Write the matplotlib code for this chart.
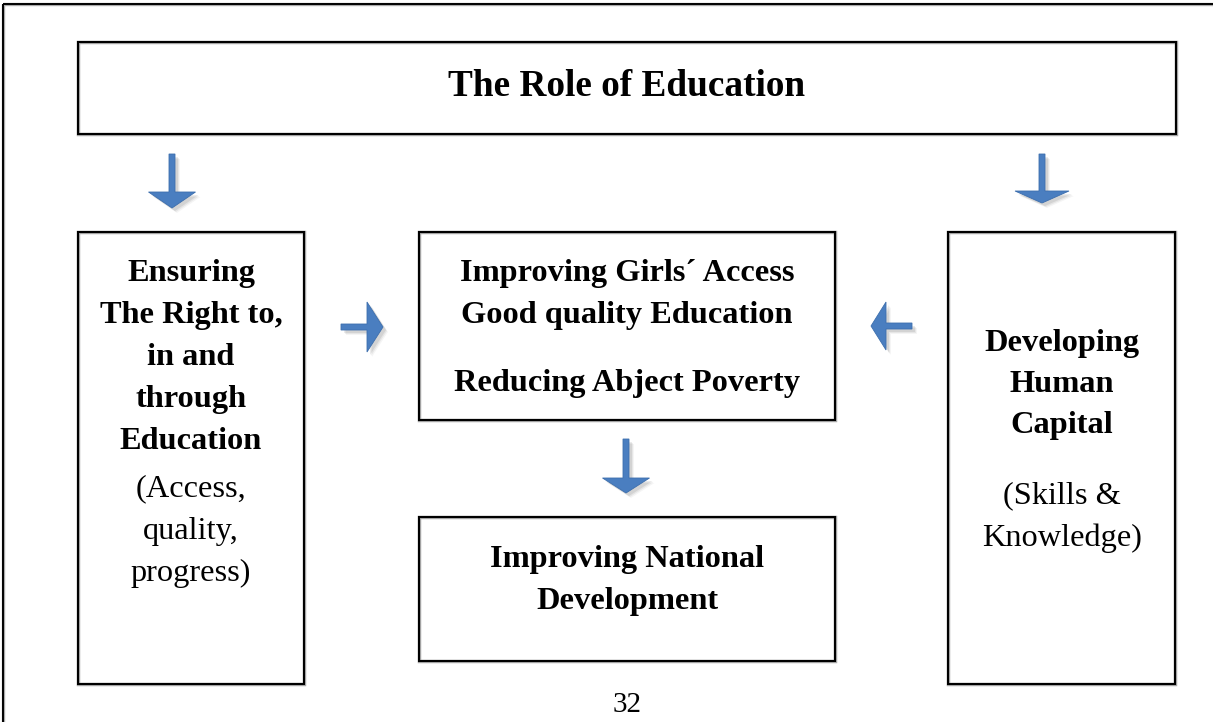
import numpy as np
import matplotlib
matplotlib.use("Agg")
import matplotlib.pyplot as plt
from matplotlib.patches import Rectangle, Polygon

# diagram content
title_text = "The Role of Education"
left_bold = ["Ensuring", "The Right to,", "in and", "through", "Education"]
left_normal = ["(Access,", "quality,", "progress)"]
center_top_bold = ["Improving Girls\u00b4 Access", "Good quality Education"]
center_top_last = "Reducing Abject Poverty"
center_bottom_bold = ["Improving National", "Development"]
right_bold = ["Developing", "Human", "Capital"]
right_normal = ["(Skills &", "Knowledge)"]
page_number = "32"

W, H = 1213, 722
ARROW = "#4A7EC0"

fig = plt.figure(figsize=(W / 100, H / 100), dpi=100)
ax = fig.add_axes([0, 0, 1, 1])
ax.set_xlim(0, W)
ax.set_ylim(H, 0)
ax.axis("off")

serif = "Liberation Serif"


def box(x0, y0, x1, y1, lw=1.5):
    # light grey halo + black edge, like the scanned page
    ax.add_patch(Rectangle((x0, y0), x1 - x0, y1 - y0, fill=False,
                           edgecolor="#aaaaaa", lw=lw + 1.0, zorder=1))
    ax.add_patch(Rectangle((x0, y0), x1 - x0, y1 - y0, fill=False,
                           edgecolor="black", lw=lw, zorder=2))


def lines(texts, x, y0, step, bold=True, size=23.3):
    for i, t in enumerate(texts):
        ax.text(x, y0 + i * step, t, ha="center", va="center", family=serif,
                fontsize=size, fontweight="bold" if bold else "normal", zorder=5)


def arrow(x0, y0, x1, y1, shaft=6, head_w=48, head_l=16):
    p0, p1 = np.array([x0, y0], float), np.array([x1, y1], float)
    d = p1 - p0
    L = np.hypot(*d)
    u = d / L
    n = np.array([-u[1], u[0]])
    b = p1 - u * head_l
    pts = [p0 + n * shaft / 2, b + n * shaft / 2, b + n * head_w / 2, p1,
           b - n * head_w / 2, b - n * shaft / 2, p0 - n * shaft / 2]
    pts = np.array(pts)
    # soft shadow
    for k, a in [(5, 0.04), (4, 0.06), (3, 0.08)]:
        ax.add_patch(Polygon(pts + np.array([k, k]), closed=True,
                             facecolor="black", edgecolor="none", alpha=a, zorder=3))
    ax.add_patch(Polygon(pts, closed=True, facecolor=ARROW,
                         edgecolor="#3C6EAD", lw=0.6, zorder=4))


# outer page frame (cut off on right/bottom)
ax.add_patch(Rectangle((3, 4), W + 20, H + 20, fill=False, edgecolor="#aaaaaa", lw=2.4, zorder=1))
ax.add_patch(Rectangle((3, 4), W + 20, H + 20, fill=False, edgecolor="black", lw=1.4, zorder=2))

# boxes
box(78, 42, 1176, 134)
box(78, 232, 304, 684)
box(419, 232, 835, 420)
box(419, 517, 835, 661)
box(948, 232, 1175, 684)

# texts
ax.text(627, 86, title_text, ha="center", va="center", family=serif,
        fontsize=26.8, fontweight="bold", zorder=5)
lines(left_bold, 191, 273, 42.2)
lines(left_normal, 191, 489, 42.2, bold=False)
lines(center_top_bold, 627, 273, 42)
lines([center_top_last], 627, 384, 0)
lines(center_bottom_bold, 627, 559, 42)
lines(right_bold, 1062, 343, 41.5)
lines(right_normal, 1062, 496, 42, bold=False)
ax.text(627, 705, page_number, ha="center", va="center", family=serif,
        fontsize=21, zorder=5)

# arrows
arrow(172, 154, 172, 208, head_w=47, head_l=16)
arrow(1042, 154, 1042, 203, head_w=54, head_l=12)
arrow(626, 439, 626, 493, head_w=47, head_l=15)
arrow(341, 327, 383, 327, head_w=50, head_l=16)
arrow(912, 326, 871, 326, head_w=48, head_l=15)

fig.savefig("out.png", dpi=100, facecolor="white")
